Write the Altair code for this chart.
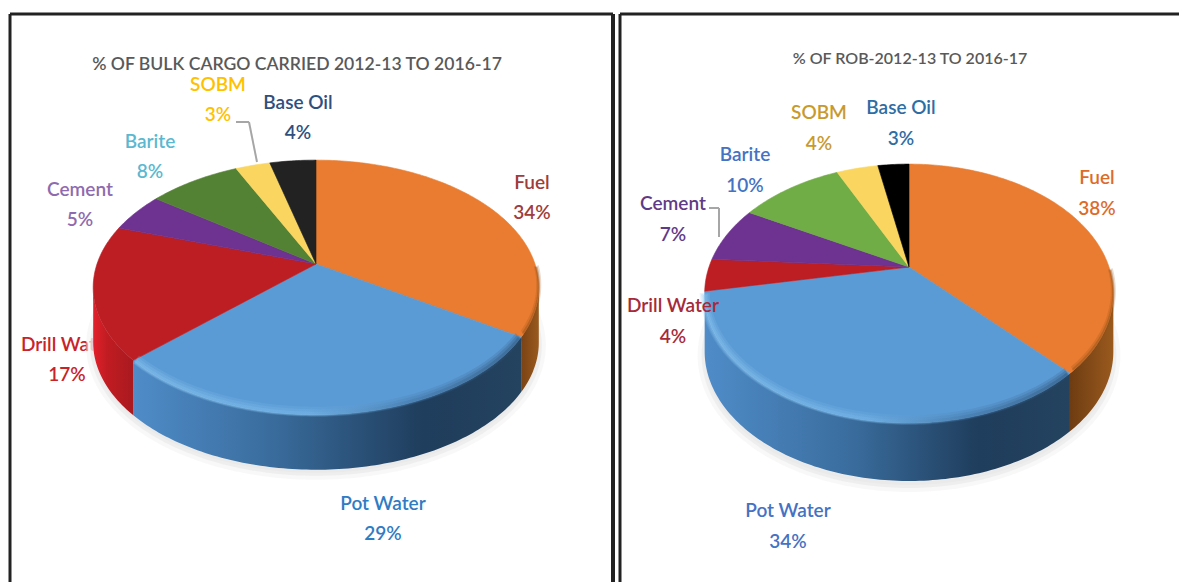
import math
import altair as alt
import pandas as pd

NAMES = ["Fuel", "Pot Water", "Drill Water", "Cement", "Barite", "SOBM", "Base Oil"]
LEFT_SHARES = [34, 29, 17, 5, 8, 3, 4]
RIGHT_SHARES = [38, 34, 4, 7, 10, 4, 3]
LEFT_TITLE = "% OF BULK CARGO CARRIED 2012-13 TO 2016-17"
RIGHT_TITLE = "% OF ROB-2012-13 TO 2016-17"
LEFT_TOP = ["#E97C30", "#5B9BD5", "#BC1E23", "#6E3291", "#548235", "#FAD660", "#222222"]
RIGHT_TOP = ["#E97C30", "#5B9BD5", "#BC1E23", "#6E3291", "#70AD47", "#FAD660", "#000000"]
LEFT_TEXT = ["#A03C3C", "#2E7CC4", "#C8232A", "#8E6BAE", "#5BB8D0", "#FFC000", "#2F4F7F"]
RIGHT_TEXT = ["#DD6B2A", "#4472C4", "#A52A3A", "#5F3B87", "#4472C4", "#C89A2E", "#2E6DA4"]
LEFT_LABEL_X = [532, 383, 67, 80, 150, 218, 298]
LEFT_LABEL_Y = [183, 504, 345, 190, 142, 85, 103]
RIGHT_LABEL_X = [1097, 788, 673, 673, 745, 819, 901]
RIGHT_LABEL_Y = [178, 511, 306, 204, 155, 113, 108]

FONT = "Lato"
X = alt.Scale(domain=[8, 1179], nice=False, zero=False)
Y = alt.Scale(domain=[8, 582], reverse=True, nice=False, zero=False)


def grad(stops):
    return alt.Gradient(
        gradient="linear", x1=0, x2=1, y1=0, y2=0,
        stops=[alt.GradientStop(offset=o, color=c) for o, c in stops],
    )


def project(p, deg):
    t = math.radians(deg)
    u, v = math.sin(t), math.cos(t)
    d = 1 + p["k"] * v
    return p["cx"] + p["rx"] * u / d, p["cy"] - p["ry"] * v / d


def polygon(points):
    df = pd.DataFrame(points, columns=["x", "y"])
    df["i"] = range(len(df))
    return df


def fill_layer(df, colour, opacity=1.0, width=0.6):
    return alt.Chart(df).mark_line(
        fill=colour, stroke=colour, strokeWidth=width, fillOpacity=opacity,
        strokeOpacity=opacity, interpolate="linear-closed",
    ).encode(
        x=alt.X("x:Q", scale=X, axis=None),
        y=alt.Y("y:Q", scale=Y, axis=None),
        order="i:Q",
    )


def arc_points(p, a, b, dy=0):
    n = max(2, int(abs(b - a)) + 1)
    return [(project(p, a + (b - a) * i / n)[0], project(p, a + (b - a) * i / n)[1] + dy) for i in range(n + 1)]


def edge_line(p, a, b, dy, paint, width, opacity):
    df = polygon(arc_points(p, a, b, dy=dy))
    return alt.Chart(df).mark_line(
        stroke=paint, strokeWidth=width, strokeOpacity=opacity, strokeCap="butt",
    ).encode(
        x=alt.X("x:Q", scale=X, axis=None),
        y=alt.Y("y:Q", scale=Y, axis=None),
        order="i:Q",
    )


def pie(p, shares, tops, rims):
    layers = []
    ring = arc_points(p, 0, 360)
    for dy, col, op, w in p["shadow"]:
        layers.append(fill_layer(polygon([(x, y + dy) for x, y in ring]), col, op, w))
    front = math.degrees(math.acos(-p["k"]))
    bounds = [0]
    for s in shares:
        bounds.append(bounds[-1] + s * 3.6)
    # side wall
    for i, rim in rims.items():
        a, b = max(bounds[i], front), min(bounds[i + 1], 360 - front)
        if b <= a:
            continue
        pts = arc_points(p, a, b)
        df = pd.DataFrame(pts, columns=["x", "y"])
        df["y2"] = df["y"] + p["depth"]
        layers.append(
            alt.Chart(df).mark_area(color=grad(rim), interpolate="linear").encode(
                x=alt.X("x:Q", scale=X, axis=None),
                y=alt.Y("y:Q", scale=Y, axis=None),
                y2="y2:Q",
            )
        )
    # top face
    for i, c in enumerate(tops):
        pts = [(p["cx"], p["cy"])] + arc_points(p, bounds[i], bounds[i + 1])
        layers.append(fill_layer(polygon(pts), c))
    # soft bevels along the outer edge
    a, b = max(bounds[1], front), min(bounds[2], 360 - front)
    shine = grad([(0, "#8CC6F0"), (0.45, "#7ABAEA"), (0.72, "#3E6F9C"), (1, "#26486A")])
    for w, o, dy in [(10, 0.18, -3), (7, 0.22, -2), (4, 0.3, -1)]:
        layers.append(edge_line(p, b - 1, a + 1, dy, shine, w, o))
    burn = "#8A4A12"
    for w, o in [(5, 0.2), (2.5, 0.35)]:
        layers.append(edge_line(p, 92, bounds[1] - 1, -w / 2, burn, w, o))
    return layers


def text_layer(text, x, y, colour, size, weight="normal"):
    df = pd.DataFrame({"x": [x], "y": [y], "t": [text]})
    return alt.Chart(df).mark_text(
        font=FONT, fontSize=size, color=colour, align="center", baseline="middle", fontWeight=weight,
    ).encode(
        x=alt.X("x:Q", scale=X, axis=None),
        y=alt.Y("y:Q", scale=Y, axis=None),
        text="t:N",
    )


def labels(names, shares, colours, xs, ys, gap, which):
    out = []
    for i in which:
        out.append(text_layer(names[i], xs[i], ys[i], colours[i], 19, 600))
        out.append(text_layer(f"{shares[i]}%", xs[i], ys[i] + gap, colours[i], 19, 600))
    return out


def rule(x1, y1, x2, y2, colour, width):
    return alt.Chart(pd.DataFrame({"a": [0]})).mark_rule(color=colour, strokeWidth=width).encode(
        x=alt.value(x1 - 8), x2=alt.value(x2 - 8), y=alt.value(y1 - 8), y2=alt.value(y2 - 8),
    )


LP = dict(cx=316, cy=264, rx=219, ry=123, k=0.184, depth=55,
          shadow=[(58, "#F2F2F2", 0.55, 14), (58, "#E8E8E8", 0.6, 6)])
RP = dict(cx=909, cy=267, rx=200, ry=124, k=0.205, depth=58,
          shadow=[(62, "#F2F2F2", 0.55, 14), (62, "#E8E8E8", 0.6, 6)])
LEFT_RIMS = {
    0: [(0, "#7A4214"), (1, "#9A5A1E")],
    1: [(0, "#4F8CC8"), (0.35, "#3A6D9E"), (0.75, "#1F3D5C"), (1, "#24435F")],
    2: [(0, "#E2202A"), (0.35, "#C01C22"), (1, "#A81A1F")],
}
RIGHT_RIMS = {
    0: [(0, "#6E3C12"), (1, "#9A5A1E")],
    1: [(0, "#4F8CC8"), (0.4, "#3A6D9E"), (0.75, "#1F3D5C"), (1, "#24435F")],
}

layers = []
layers.append(rule(10, 14, 613, 14, "#222222", 3))
layers.append(rule(10, 14, 10, 582, "#222222", 3))
layers.append(rule(613, 14, 613, 582, "#222222", 4))
layers.append(rule(620, 14, 1179, 14, "#222222", 3))
layers.append(rule(620, 14, 620, 582, "#222222", 3))
layers.append(text_layer(LEFT_TITLE, 297, 65, "#595959", 17.6, 600))
layers.append(text_layer(RIGHT_TITLE, 910, 59, "#595959", 16, 600))
layers += labels(NAMES, LEFT_SHARES, LEFT_TEXT, LEFT_LABEL_X, LEFT_LABEL_Y, 30, [2])
layers += pie(LP, LEFT_SHARES, LEFT_TOP, LEFT_RIMS)
layers += pie(RP, RIGHT_SHARES, RIGHT_TOP, RIGHT_RIMS)
layers += labels(NAMES, LEFT_SHARES, LEFT_TEXT, LEFT_LABEL_X, LEFT_LABEL_Y, 30, [0, 1, 3, 4, 5, 6])
layers += labels(NAMES, RIGHT_SHARES, RIGHT_TEXT, RIGHT_LABEL_X, RIGHT_LABEL_Y, 31, range(7))
for seg in [(236, 122, 249, 122), (249, 122, 257, 162), (709, 208, 719, 208), (719, 208, 719, 237)]:
    layers.append(rule(*seg, "#A6A6A6", 2))

chart = alt.layer(*layers).properties(
    width=1171, height=574, padding=0, autosize="none", background="white",
).configure_view(stroke=None)
chart.save("out.html", embed_options={"renderer": "svg", "actions": False})
